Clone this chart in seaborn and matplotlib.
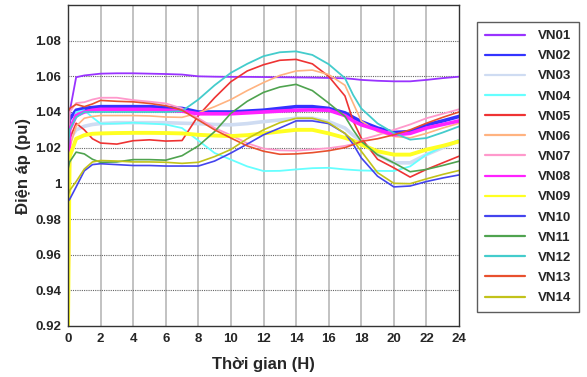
import matplotlib
matplotlib.use("Agg")
import matplotlib.pyplot as plt
import seaborn as sns
import numpy as np
from matplotlib.ticker import FuncFormatter, MultipleLocator

hours = [0, 0.1, 0.5, 1, 1.5, 2, 3, 4, 5, 6, 7, 8, 9, 10, 11, 12, 13, 14, 15, 16,
         17, 17.5, 18, 19, 20, 21, 22, 23, 24]

VN01 = [0.958, 1.040, 1.0595, 1.0605, 1.061, 1.0615, 1.0617, 1.0617, 1.0615, 1.0613, 1.061,
        1.0600, 1.0598, 1.0597, 1.0597, 1.0596, 1.0595, 1.0594, 1.0593, 1.0591, 1.0589, 1.0585,
        1.058, 1.0575, 1.0572, 1.0572, 1.058, 1.059, 1.0598]
VN02 = [1.030, 1.036, 1.041, 1.042, 1.0425, 1.043, 1.043, 1.043, 1.043, 1.0425, 1.042,
        1.040, 1.040, 1.040, 1.0405, 1.041, 1.042, 1.043, 1.043, 1.042, 1.0395, 1.037,
        1.0346, 1.031, 1.0285, 1.029, 1.0328, 1.035, 1.0375]
VN03 = [1.000, 1.025, 1.030, 1.032, 1.033, 1.0335, 1.034, 1.034, 1.034, 1.034, 1.0337,
        1.0335, 1.033, 1.0328, 1.0335, 1.0346, 1.0355, 1.0365, 1.0365, 1.0346, 1.031, 1.027,
        1.0235, 1.016, 1.0115, 1.0115, 1.0161, 1.020, 1.0239]
VN04 = [1.020, 1.030, 1.040, 1.041, 1.037, 1.0335, 1.0335, 1.034, 1.0335, 1.033, 1.031,
        1.024, 1.017, 1.0133, 1.0095, 1.0069, 1.007, 1.0078, 1.0085, 1.0087, 1.0078, 1.0075,
        1.0072, 1.007, 1.0069, 1.0095, 1.0161, 1.0205, 1.0244]
VN05 = [1.015, 1.025, 1.0337, 1.030, 1.025, 1.0226, 1.022, 1.0239, 1.0244, 1.0237, 1.024,
        1.038, 1.048, 1.057, 1.063, 1.0665, 1.069, 1.0695, 1.067, 1.060, 1.049, 1.035,
        1.0254, 1.0135, 1.0087, 1.0035, 1.0078, 1.0115, 1.0152]
VN06 = [1.000, 1.020, 1.032, 1.0365, 1.0375, 1.038, 1.038, 1.038, 1.0378, 1.0372, 1.037,
        1.0395, 1.043, 1.047, 1.052, 1.0565, 1.0605, 1.063, 1.0635, 1.061, 1.055, 1.045,
        1.035, 1.029, 1.0263, 1.0255, 1.028, 1.031, 1.0337]
VN07 = [1.000, 1.040, 1.045, 1.0455, 1.047, 1.048, 1.048, 1.0467, 1.0458, 1.0448, 1.042,
        1.0365, 1.031, 1.027, 1.0225, 1.0195, 1.0185, 1.0183, 1.019, 1.0197, 1.021, 1.022,
        1.0245, 1.027, 1.030, 1.033, 1.0365, 1.039, 1.0415]
VN08 = [0.940, 1.030, 1.038, 1.040, 1.041, 1.0415, 1.0415, 1.0415, 1.0415, 1.041, 1.0405,
        1.039, 1.039, 1.039, 1.0395, 1.040, 1.0405, 1.041, 1.0412, 1.041, 1.038, 1.035,
        1.0328, 1.030, 1.0272, 1.028, 1.031, 1.033, 1.035]
VN09 = [0.920, 1.015, 1.025, 1.027, 1.0278, 1.028, 1.0282, 1.0283, 1.0283, 1.0282, 1.028,
        1.0272, 1.0268, 1.0265, 1.027, 1.028, 1.029, 1.030, 1.030, 1.028, 1.0255, 1.024,
        1.0217, 1.018, 1.0161, 1.0161, 1.0189, 1.021, 1.0235]
VN10 = [0.990, 0.991, 0.998, 1.007, 1.0105, 1.011, 1.0105, 1.010, 1.010, 1.0097, 1.0097,
        1.0097, 1.0125, 1.017, 1.022, 1.0272, 1.031, 1.035, 1.035, 1.0335, 1.028, 1.022,
        1.0143, 1.004, 0.998, 0.9985, 1.001, 1.003, 1.0047]
VN11 = [1.008, 1.012, 1.0175, 1.0165, 1.0135, 1.0118, 1.012, 1.0133, 1.0133, 1.013, 1.0155,
        1.021, 1.029, 1.0393, 1.046, 1.051, 1.054, 1.0555, 1.052, 1.045, 1.0375, 1.030,
        1.0235, 1.016, 1.0115, 1.0065, 1.0078, 1.010, 1.0124]
VN12 = [1.020, 1.030, 1.037, 1.040, 1.040, 1.040, 1.040, 1.040, 1.040, 1.040, 1.0405,
        1.047, 1.055, 1.062, 1.067, 1.0713, 1.0735, 1.074, 1.072, 1.0668, 1.059, 1.0496,
        1.042, 1.0336, 1.0282, 1.0245, 1.0254, 1.0285, 1.0319]
VN13 = [1.040, 1.042, 1.0443, 1.043, 1.0445, 1.0465, 1.046, 1.0457, 1.0448, 1.0435, 1.041,
        1.0355, 1.030, 1.0254, 1.021, 1.018, 1.0163, 1.0165, 1.0172, 1.0183, 1.020, 1.0217,
        1.0235, 1.025, 1.0272, 1.030, 1.0337, 1.037, 1.040]
VN14 = [0.993, 0.996, 1.001, 1.008, 1.012, 1.0128, 1.0125, 1.012, 1.012, 1.0118, 1.0112,
        1.0118, 1.015, 1.019, 1.025, 1.030, 1.034, 1.0365, 1.0365, 1.034, 1.028, 1.024,
        1.018, 1.006, 1.000, 0.9998, 1.0025, 1.005, 1.0072]

names = ["VN01", "VN02", "VN03", "VN04", "VN05", "VN06", "VN07", "VN08", "VN09",
         "VN10", "VN11", "VN12", "VN13", "VN14"]
series = [VN01, VN02, VN03, VN04, VN05, VN06, VN07, VN08, VN09, VN10, VN11, VN12, VN13, VN14]
colors = ["#9933ff", "#3333ff", "#cfdcf2", "#66ffff", "#ee3333", "#ffb380", "#ff99cc",
          "#ff22ff", "#ffff22", "#4444ee", "#4fa34f", "#44cccc", "#e8502e", "#c2c21a"]
widths = [1.3, 2.6, 2.6, 1.3, 1.2, 1.2, 1.3, 2.6, 2.8, 1.2, 1.2, 1.3, 1.2, 1.2]

sns.set_theme(style="white")
plt.rcParams['font.family'] = ['Liberation Sans', 'DejaVu Sans']

fig = plt.figure(figsize=(5.87, 3.77), dpi=100)
ax = fig.add_axes([68/587, 1-326/377, (459-68)/587, (326-5)/377])

for name, vals, c, lw in zip(names, series, colors, widths):
    sns.lineplot(x=hours, y=vals, ax=ax, color=c, linewidth=lw, label=name)

ax.set_xlim(0, 24)
ax.set_ylim(0.92, 1.10)
ax.xaxis.set_major_locator(MultipleLocator(2))
ax.set_yticks(np.arange(0.92, 1.081, 0.02))
ax.yaxis.set_major_formatter(FuncFormatter(lambda v, p: f"{round(v, 2):g}"))

ax.grid(False)
for xv in range(2, 24, 2):
    ax.axvline(xv, color="#b8b8b8", lw=1.2, zorder=0)
for yv in np.arange(0.94, 1.081, 0.02):
    ax.axhline(yv, color="#666666", lw=0.8, ls=(0, (1, 1)), zorder=0)

for s in ax.spines.values():
    s.set_color("#333333")
    s.set_linewidth(1.0)
ax.tick_params(axis="both", length=0, pad=5, labelsize=9.5)
for lab in ax.get_xticklabels() + ax.get_yticklabels():
    lab.set_fontweight("bold")

ax.set_xlabel("Thời gian (H)", fontsize=12, fontweight="bold", labelpad=9)
ax.set_ylabel("Điện áp (pu)", fontsize=12, fontweight="bold", labelpad=3)

leg = ax.legend(loc="upper left", bbox_to_anchor=(477/587, 1-22/377),
                bbox_transform=fig.transFigure, frameon=True, fancybox=False,
                edgecolor="#333333", prop={"weight": "bold", "size": 9.5},
                handlelength=3.0, handletextpad=1.0, labelspacing=0.6,
                borderpad=0.6, borderaxespad=0)
leg.get_frame().set_linewidth(1.0)
for h in leg.get_lines():
    h.set_linewidth(1.6)

fig.savefig("out.png", dpi=100)
